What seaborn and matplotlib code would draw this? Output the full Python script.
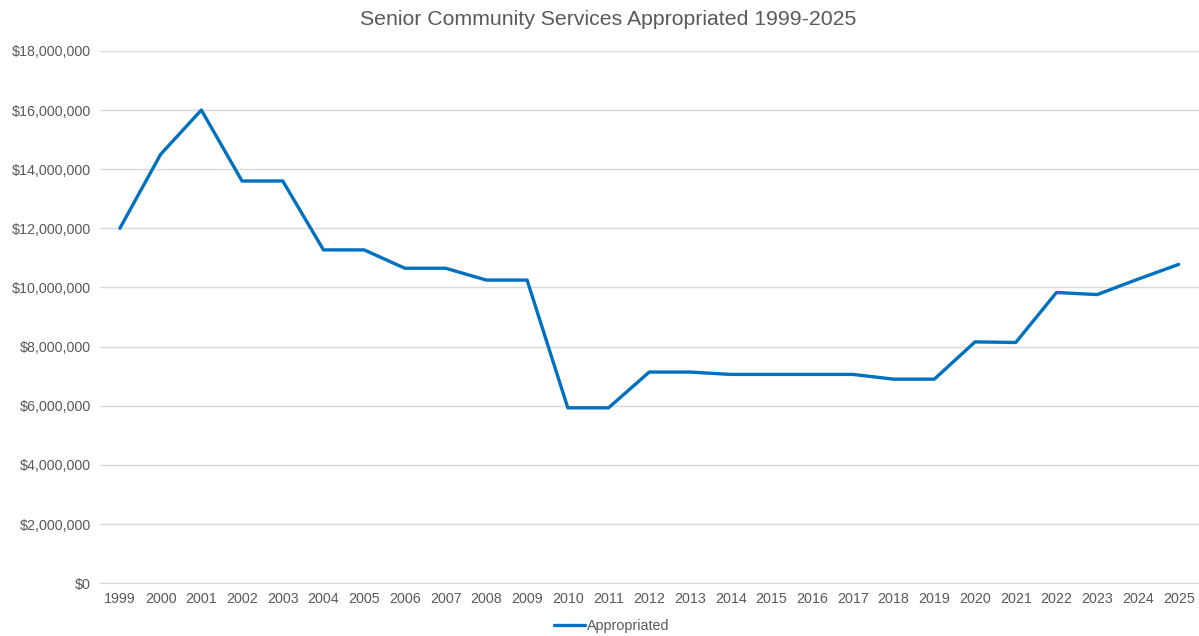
import pandas as pd
import seaborn as sns
import matplotlib.pyplot as plt
from matplotlib.ticker import FuncFormatter

years = [str(y) for y in range(1999, 2026)]
appropriated = [12.0, 14.5, 16.0, 13.6, 13.6, 11.27, 11.27, 10.65, 10.65, 10.25, 10.25,
                5.93, 5.93, 7.14, 7.14, 7.06, 7.06, 7.06, 7.06, 6.9, 6.9,
                8.16, 8.14, 9.83, 9.76, 10.28, 10.78]
appropriated = [v * 1e6 for v in appropriated]

df = pd.DataFrame({'Year': years, 'Appropriated': appropriated})

sns.set_style('white')
plt.rcParams['font.family'] = ['Liberation Sans', 'DejaVu Sans']

fig = plt.figure(figsize=(11.99, 6.36), dpi=100)
ax = fig.add_axes([0.083, 0.083, 0.917, 0.837])

sns.lineplot(data=df, x='Year', y='Appropriated', color='#0070C0', linewidth=2.4,
             label='Appropriated', ax=ax, sort=False)

ax.set_ylim(0, 18e6)
ax.set_xlim(-0.5, len(years) - 0.5)
ax.set_yticks(range(0, 18000001, 2000000))
ax.yaxis.set_major_formatter(FuncFormatter(lambda v, p: '${:,.0f}'.format(v)))
ax.grid(axis='y', color='#d9d9d9', linewidth=1)
ax.set_axisbelow(True)
for s in ['top', 'right', 'left']:
    ax.spines[s].set_visible(False)
ax.spines['bottom'].set_color('#d9d9d9')
ax.tick_params(axis='both', colors='#595959', labelsize=10.3, length=0, pad=6)
ax.set_xlabel('')
ax.set_ylabel('')

ax.get_legend().remove()
handles, labels = ax.get_legend_handles_labels()
fig.legend(handles, labels, loc='lower center', bbox_to_anchor=(0.51, -0.016), frameon=False,
           fontsize=10.3, labelcolor='#595959', handlelength=2.2, handletextpad=0.1)

fig.suptitle('Senior Community Services Appropriated 1999-2025', x=0.507, y=0.985,
             fontsize=15.3, color='#595959')

fig.savefig('out.png', dpi=100)
